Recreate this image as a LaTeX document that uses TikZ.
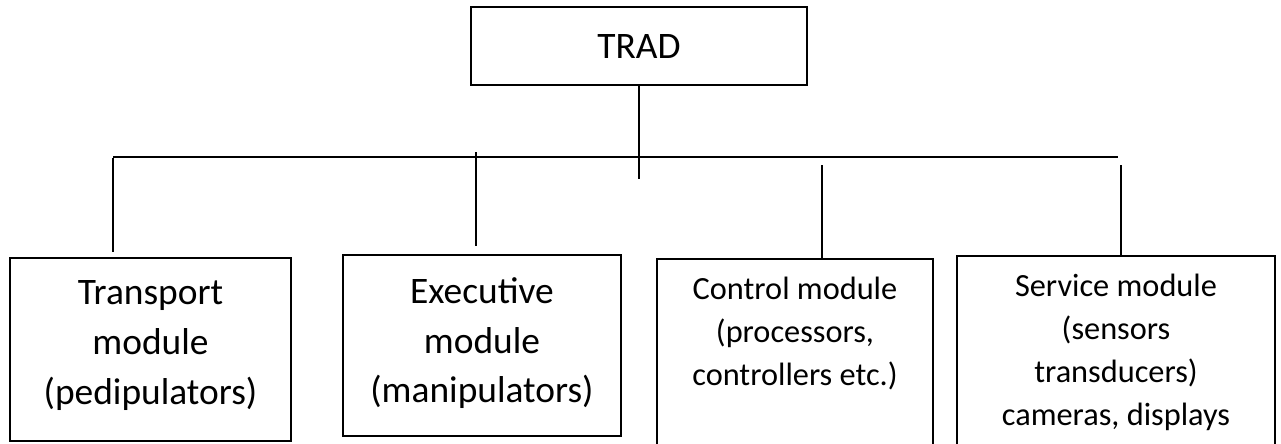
\documentclass[tikz,border=0pt]{standalone}
\usepackage{fontspec}
\setmainfont{Carlito}
\usetikzlibrary{positioning}
\newcommand\ModLeg[4]{% x, top y, box, gap
    \coordinate (#3 leg) at (#1,#2);
    \draw[shorten >=#4] (#3 leg) -- (#3 leg |- #3.north);
}

\begin{document}
\begin{tikzpicture}[x=0.02cm,y=-0.02cm,line width=1pt,
    box/.style={draw,line width=1.1pt,inner sep=0pt},
    big/.style={font=\fontsize{21.3}{28.2}\selectfont,align=center,inner sep=0pt},
    small/.style={font=\fontsize{18.4}{24.4}\selectfont,align=center,inner sep=0pt}]
    \useasboundingbox (0,0) rectangle (1281,443);
    \clip (0,0) rectangle (1281,443);
    % top box and bus
    \node[box,big,minimum width=6.72cm,minimum height=1.56cm] (trad) at (639,46) {TRAD};
    \coordinate (busL) at (113,157);
    \coordinate (busR) at (1118,157);
    \draw (busL) -- (busR);
    \draw (trad.south) -- ++(0,93);
    % modules
    \node[box,minimum width=5.62cm,minimum height=3.66cm] (transport) at (150.5,349.5) {};
    \node[box,minimum width=5.56cm,minimum height=3.62cm] (executive) at (482,345.5) {};
    \node[box,minimum width=5.52cm,minimum height=4.22cm] (control) at (795,364.5) {};
    \node[box,minimum width=6.36cm,minimum height=4.28cm] (service) at (1116,363) {};
    \node[big,below=0.46cm of transport.north] (transport text) {Transport\\module\\(pedipulators)};
    \node[big,below=0.46cm of executive.north] (executive text) {Executive\\module\\(manipulators)};
    \node[small,below=0.37cm of control.north] (control text) {Control module\\(processors,\\controllers etc.)};
    \node[small,below=0.37cm of service.north] (service text) {Service module\\(sensors\\transducers)\\cameras, displays};
    % legs
    \ModLeg{113}{158}{transport}{0.1cm}
    \ModLeg{476}{152}{executive}{0.16cm}
    \ModLeg{822}{165}{control}{0pt}
    \ModLeg{1121}{165}{service}{0pt}
\end{tikzpicture}
\end{document}
